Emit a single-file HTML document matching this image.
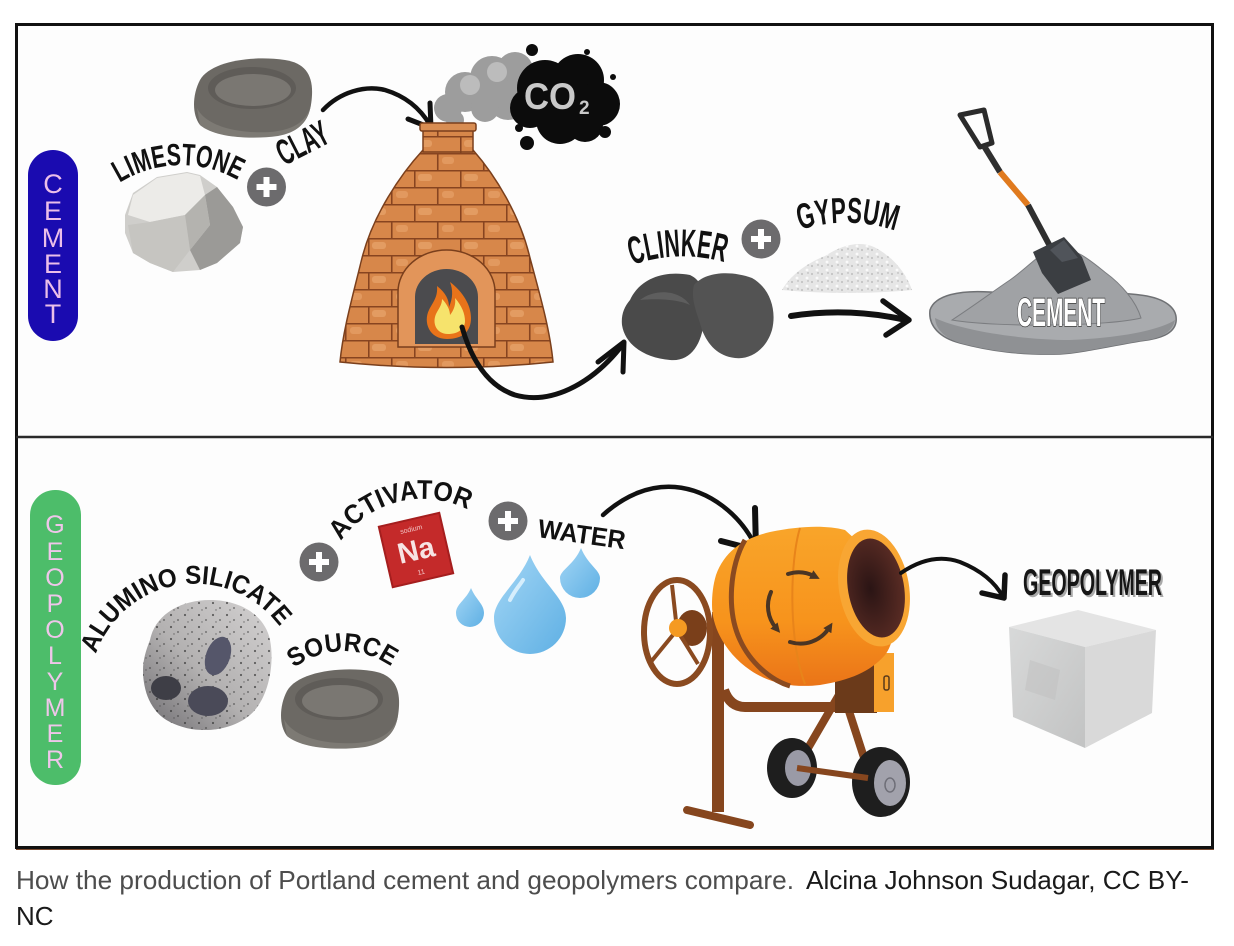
<!DOCTYPE html>
<html><head><meta charset="utf-8"><style>
html,body{margin:0;padding:0;background:#fff;}
svg{display:block;}
</style></head><body>
<svg width="1234" height="946" viewBox="0 0 1234 946" xmlns="http://www.w3.org/2000/svg" font-family="'Liberation Sans', sans-serif">
<defs>
<pattern id="brick" width="46" height="34" patternUnits="userSpaceOnUse">
<rect width="46" height="34" fill="#d7874a"/>
<rect x="4" y="4" width="14" height="7" rx="3" fill="#e9a56d" opacity=".7"/>
<rect x="28" y="21" width="12" height="7" rx="3" fill="#e9a56d" opacity=".6"/>
<path d="M0 0.75H46M0 17.75H46M0.75 0V17M23.75 17V34" stroke="#874420" stroke-width="1.6"/>
</pattern>
<pattern id="speck" width="14" height="12" patternUnits="userSpaceOnUse">
<circle cx="3" cy="3" r="1.1" fill="#333"/><circle cx="10" cy="8" r="0.9" fill="#333"/><circle cx="6" cy="10" r="0.7" fill="#444"/>
</pattern>
<pattern id="powder" width="10" height="8" patternUnits="userSpaceOnUse">
<circle cx="2" cy="2" r="1.1" fill="#c4c4c4"/><circle cx="7" cy="6" r="1.4" fill="#fafafa"/><circle cx="8" cy="1" r="0.7" fill="#aaa"/>
</pattern>
<linearGradient id="drumG" x1="0" y1="0" x2="0" y2="1">
<stop offset="0" stop-color="#f9a52a"/><stop offset="0.6" stop-color="#f7931c"/><stop offset="1" stop-color="#ea7418"/>
</linearGradient>
<radialGradient id="mouthG" cx="0.4" cy="0.5" r="0.6">
<stop offset="0" stop-color="#2a1414"/><stop offset="1" stop-color="#5a2c24"/>
</radialGradient>
<linearGradient id="rockG" x1="1" y1="0" x2="0" y2="1">
<stop offset="0" stop-color="#d4d2d2"/><stop offset="0.55" stop-color="#b3b1b1"/><stop offset="1" stop-color="#6e6c70"/>
</linearGradient>
<linearGradient id="dropG" x1="0" y1="0" x2="1" y2="1">
<stop offset="0" stop-color="#a3d6f5"/><stop offset="1" stop-color="#5fb0e4"/>
</linearGradient>
<linearGradient id="cubeL" x1="0" y1="0" x2="1" y2="1">
<stop offset="0" stop-color="#d8d9d9"/><stop offset="1" stop-color="#c2c3c3"/>
</linearGradient>
<marker id="ah" viewBox="0 0 6 6" markerWidth="2.4" markerHeight="2.4" refX="2" refY="3" orient="auto">
<path d="M0,0 L6,3 L0,6 Z" fill="#4a3524"/>
</marker>
<g id="clay">
<path d="M200,80 C210,62 250,55 285,60 C305,63 313,75 312,95 C311,115 305,130 280,135 C250,140 215,137 200,125 C192,115 192,95 200,80 Z" fill="#6c6964"/>
<path d="M197,108 C205,125 235,134 270,132 C295,130 308,120 311,104 C309,120 300,132 278,136 C248,140 214,137 200,125 Z" fill="#7d7a74"/>
<ellipse cx="252" cy="88" rx="44" ry="21" fill="#5f5c58"/>
<ellipse cx="253" cy="90" rx="38" ry="16" fill="#7a7772"/>
</g>
</defs>

<rect width="1234" height="946" fill="#fff"/>
<!-- frame -->
<rect x="16.5" y="24.5" width="1196" height="823" fill="#fdfdfd" stroke="#111" stroke-width="3"/>
<line x1="16" y1="437" x2="1213" y2="437" stroke="#2a2a2a" stroke-width="2.5"/>
<line x1="16" y1="849.5" x2="1214" y2="849.5" stroke="#7a4a30" stroke-width="1"/>

<!-- CEMENT pill -->
<rect x="28" y="150" width="50" height="191" rx="25" fill="#1a0bb0"/>
<g font-size="27" fill="#ebbfe9" text-anchor="middle">
<text x="53" y="193">C</text><text x="53" y="220">E</text><text x="53" y="247">M</text>
<text x="53" y="273">E</text><text x="53" y="298">N</text><text x="53" y="323">T</text>
</g>

<!-- GEOPOLYMER pill -->
<rect x="30" y="490" width="51" height="295" rx="25" fill="#4dbd6a"/>
<g font-size="25" fill="#efc6ea" text-anchor="middle">
<text x="55" y="533">G</text><text x="55" y="560">E</text><text x="55" y="586">O</text>
<text x="55" y="612">P</text><text x="55" y="638">O</text><text x="55" y="664">L</text>
<text x="55" y="690">Y</text><text x="55" y="716">M</text><text x="55" y="742">E</text>
<text x="55" y="768">R</text>
</g>

<!-- clay top -->
<use href="#clay"/>

<!-- limestone rock -->
<polygon points="125,215 133,193 157,177 187,172 200,175 217,187 233,207 243,227 240,243 217,263 200,270 173,272 150,263 133,253 125,233" fill="#cfcecb"/>
<polygon points="133,195 157,178 187,173 200,176 205,195 185,215 150,222 128,215" fill="#ecebe8"/>
<polygon points="205,195 217,187 233,207 243,227 240,243 217,263 200,270 190,250 210,225" fill="#9b9a97"/>
<polygon points="128,225 150,222 185,215 190,250 173,272 150,263 133,253" fill="#c6c5c1"/>
<polygon points="185,215 205,195 210,225 190,250" fill="#b4b3af"/>

<!-- LIMESTONE curved -->
<path id="limeP" d="M118,184 A115 115 0 0 1 244,184" fill="none"/>
<text font-size="31" font-weight="bold" fill="#111"><textPath href="#limeP" startOffset="2" textLength="124" lengthAdjust="spacingAndGlyphs">LIMESTONE</textPath></text>

<!-- plus 1 -->
<g transform="translate(266.5,187)"><circle r="19.5" fill="#6c6b6d"/><path d="M-10,0H10M0,-10V10" stroke="#fff" stroke-width="6"/></g>

<!-- CLAY -->
<text transform="translate(284,166) rotate(-27)" font-size="36" font-weight="bold" fill="#111" textLength="54" lengthAdjust="spacingAndGlyphs">CLAY</text>

<!-- arrow 1 -->
<path d="M323,110 C340,92 365,85 385,90 C405,96 420,108 430,125" fill="none" stroke="#111" stroke-width="4.5" stroke-linecap="round"/>
<path d="M408,119 L431,128 L430,103" fill="none" stroke="#111" stroke-width="5" stroke-linejoin="round" stroke-linecap="round"/>

<!-- smoke -->
<g fill="#9d9d9d">
<circle cx="448" cy="108" r="14"/><circle cx="465" cy="92" r="20"/><circle cx="492" cy="78" r="22"/>
<circle cx="515" cy="70" r="18"/><circle cx="508" cy="100" r="20"/><circle cx="485" cy="108" r="14"/>
<circle cx="455" cy="120" r="9"/>
</g>
<g fill="#bcbcbc"><circle cx="470" cy="85" r="10"/><circle cx="497" cy="72" r="10"/></g>
<!-- CO2 cloud -->
<g fill="#0c0c0c">
<circle cx="545" cy="88" r="28"/><circle cx="578" cy="80" r="26"/><circle cx="598" cy="104" r="22"/>
<circle cx="560" cy="120" r="24"/><circle cx="530" cy="108" r="20"/><circle cx="585" cy="124" r="18"/>
<circle cx="532" cy="50" r="6"/><circle cx="587" cy="52" r="3"/><circle cx="613" cy="77" r="3"/>
<circle cx="605" cy="132" r="6"/><circle cx="527" cy="143" r="7"/><circle cx="519" cy="128" r="4"/>
</g>
<text x="524" y="109" font-size="37" font-weight="bold" fill="#c9c9c9" textLength="52" lengthAdjust="spacingAndGlyphs">CO</text>
<text x="579" y="114" font-size="19" font-weight="bold" fill="#c9c9c9">2</text>

<!-- kiln -->
<path d="M423,150 L473,150 C495,175 520,215 530,258 C540,295 550,330 553,362 Q447,373 340,362 C343,330 353,295 362,258 C373,215 400,175 423,150 Z" fill="url(#brick)" stroke="#7a3f1c" stroke-width="1.5"/>
<rect x="423" y="126" width="50" height="26" fill="url(#brick)" stroke="#7a3f1c" stroke-width="1.5"/>
<rect x="420" y="123" width="56" height="8" rx="2" fill="#d98d52" stroke="#7a3f1c" stroke-width="1.5"/>
<path d="M398,347 L398,292 A48.5 42 0 0 1 495,292 L495,347 Z" fill="#e2955a" stroke="#7a3f1c" stroke-width="1.5"/>
<path d="M415,344 L415,297 A31.5 28 0 0 1 478,297 L478,344 Z" fill="#4b4b4e"/>
<path d="M447,339 C429,339 423,322 429,310 C433,302 438,297 437,286 C446,293 449,300 449,307 C453,298 453,290 450,282 C463,292 471,305 471,318 C471,331 463,339 447,339 Z" fill="#e8731a"/>
<path d="M448,334 C436,334 432,323 436,314 C439,308 442,305 442,299 C447,304 450,310 450,315 C454,310 456,304 455,298 C462,306 465,314 465,321 C465,329 458,334 448,334 Z" fill="#f6e36c"/>

<!-- arrow 2 -->
<path d="M462,327 C470,355 485,385 515,395 C550,405 590,385 620,348" fill="none" stroke="#111" stroke-width="5" stroke-linecap="round"/>
<path d="M598,362 L624,342 L623,372" fill="none" stroke="#111" stroke-width="5" stroke-linejoin="round" stroke-linecap="round"/>

<!-- CLINKER -->
<path id="clinkP" d="M632,265 Q680,249 727,263" fill="none"/>
<text font-size="39" font-weight="bold" fill="#111"><textPath href="#clinkP" textLength="94" lengthAdjust="spacingAndGlyphs">CLINKER</textPath></text>
<!-- clinker rocks -->
<path d="M630,300 C640,278 665,270 690,275 C705,282 706,300 704,320 C702,345 690,362 670,360 C645,358 625,345 622,325 C621,315 624,307 630,300 Z" fill="#4a4a4a"/>
<path d="M694,285 C705,272 730,270 752,278 C770,288 777,310 772,330 C766,350 750,360 735,358 C718,356 708,345 702,330 C698,315 690,300 694,285 Z" fill="#535353"/>
<path d="M640,300 C655,288 680,290 690,305 C680,300 660,298 640,300 Z" fill="#5e5e5e"/>

<!-- plus 2 -->
<g transform="translate(761,239)"><circle r="19.5" fill="#6c6b6d"/><path d="M-10,0H10M0,-10V10" stroke="#fff" stroke-width="6"/></g>

<!-- GYPSUM -->
<path id="gypP" d="M800,230 Q848,215 896,231" fill="none"/>
<text font-size="36" font-weight="bold" fill="#111"><textPath href="#gypP" textLength="97" lengthAdjust="spacingAndGlyphs">GYPSUM</textPath></text>
<!-- powder -->
<path d="M782,290 C790,276 805,264 825,256 C840,246 858,240 874,247 C890,255 905,270 912,290 Q848,296 782,290 Z" fill="#e6e6e6"/>
<path d="M782,290 C790,276 805,264 825,256 C840,246 858,240 874,247 C890,255 905,270 912,290 Q848,296 782,290 Z" fill="url(#powder)"/>

<!-- arrow clinker->cement -->
<path d="M791,316 C830,310 870,312 906,320" fill="none" stroke="#111" stroke-width="6" stroke-linecap="round"/>
<path d="M883,301 L909,320 L886,335" fill="none" stroke="#111" stroke-width="5.5" stroke-linejoin="round" stroke-linecap="round"/>

<!-- cement pile -->
<path d="M930,310 C935,295 960,290 990,292 C1040,295 1100,290 1140,295 C1165,298 1178,308 1176,322 C1174,334 1160,339 1140,341 C1110,346 1080,353 1060,354 C1020,355 990,351 960,343 C940,338 928,326 930,310 Z" fill="#a9abae" stroke="#6f7174" stroke-width="1.5"/>
<path d="M935,318 C960,330 1020,340 1070,340 C1120,338 1160,330 1175,320 C1172,333 1160,339 1140,341 C1110,346 1080,353 1060,354 C1020,355 990,351 960,343 C945,338 936,330 935,318 Z" fill="#8f9194"/>
<path d="M952,320 C975,305 995,290 1010,280 C1030,266 1042,250 1056,248 C1076,247 1092,262 1106,273 C1121,284 1136,301 1141,318 C1110,326 1000,328 952,320 Z" fill="#a0a2a5" stroke="#7b7d80" stroke-width="1"/>
<!-- shovel -->
<path d="M960,115 L984,110 L992,143 L980,147 Z" fill="none" stroke="#2b2b2b" stroke-width="5" stroke-linejoin="round"/>
<line x1="984" y1="146" x2="1000" y2="172" stroke="#2f2f2f" stroke-width="6"/>
<line x1="1000" y1="172" x2="1028" y2="205" stroke="#e07a1e" stroke-width="6"/>
<line x1="1028" y1="205" x2="1052" y2="250" stroke="#2f2f2f" stroke-width="6"/>
<polygon points="1033,252 1064,237 1082,257 1091,280 1058,294 1042,273" fill="#3b3e42"/>
<polygon points="1050,250 1064,240 1078,258 1062,262" fill="#50545a"/>
<text x="1017" y="326" font-size="40" font-weight="bold" fill="#fff" stroke="#3a3a3a" stroke-width="1.6" paint-order="stroke" textLength="88" lengthAdjust="spacingAndGlyphs">CEMENT</text>

<!-- ===== bottom panel ===== -->
<!-- porous rock -->
<path d="M150,640 C155,615 180,600 210,600 C240,600 265,615 270,640 C275,665 268,700 250,715 C230,732 195,735 170,722 C150,712 143,690 143,670 C143,660 146,650 150,640 Z" fill="url(#rockG)"/>
<path d="M150,640 C155,615 180,600 210,600 C240,600 265,615 270,640 C275,665 268,700 250,715 C230,732 195,735 170,722 C150,712 143,690 143,670 C143,660 146,650 150,640 Z" fill="url(#speck)" opacity=".7"/>
<ellipse cx="218" cy="656" rx="12" ry="20" transform="rotate(20 218 656)" fill="#55566a"/>
<ellipse cx="166" cy="688" rx="15" ry="12" fill="#3e3e46"/>
<ellipse cx="208" cy="701" rx="20" ry="15" fill="#4a4a58"/>

<!-- ALUMINO SILICATE -->
<path id="alP" d="M96,654 A105 105 0 0 1 291,646" fill="none"/>
<text font-size="26" font-weight="bold" fill="#111"><textPath href="#alP" textLength="228" lengthAdjust="spacingAndGlyphs">ALUMINO  SILICATE</textPath></text>

<!-- clay 2 -->
<use href="#clay" transform="translate(87,611)"/>
<!-- SOURCE -->
<path id="srcP" d="M294,668 A81.5 81.5 0 0 1 393,668" fill="none"/>
<text font-size="26" font-weight="bold" fill="#111"><textPath href="#srcP" textLength="104" lengthAdjust="spacingAndGlyphs">SOURCE</textPath></text>

<!-- plus 3 -->
<g transform="translate(319,562)"><circle r="19.5" fill="#6c6b6d"/><path d="M-10,0H10M0,-10V10" stroke="#fff" stroke-width="6"/></g>

<!-- ACTIVATOR -->
<path id="actP" d="M341,541 A100 100 0 0 1 472,512" fill="none"/>
<text font-size="27" font-weight="bold" fill="#111"><textPath href="#actP" textLength="142" lengthAdjust="spacingAndGlyphs">ACTIVATOR</textPath></text>

<!-- Na -->
<g transform="rotate(-13 416 550)">
<rect x="385" y="519" width="62" height="62" fill="#c42a2a"/>
<rect x="385" y="519" width="62" height="62" fill="none" stroke="#a51e1e" stroke-width="2"/>
<text x="416" y="531" font-size="7" fill="#f2c5c5" text-anchor="middle">sodium</text>
<text x="416" y="560" font-size="29" font-weight="bold" fill="#f7e4e4" text-anchor="middle">Na</text>
<text x="416" y="575" font-size="7" fill="#f2c5c5" text-anchor="middle">11</text>
</g>

<!-- plus 4 -->
<g transform="translate(508,521)"><circle r="19.5" fill="#6c6b6d"/><path d="M-10,0H10M0,-10V10" stroke="#fff" stroke-width="6"/></g>

<!-- WATER -->
<text transform="translate(537,537) rotate(8)" font-size="26" font-weight="bold" fill="#111" textLength="88" lengthAdjust="spacingAndGlyphs">WATER</text>

<!-- drops -->
<path d="M530,555 C541,583 566,598 566,618 A36 36 0 0 1 494,618 C494,598 519,583 530,555 Z" fill="url(#dropG)"/>
<path d="M510,600 C515,590 520,585 523,580" stroke="#d6eefc" stroke-width="4" stroke-linecap="round" fill="none"/>
<path d="M471,588 C476,600 484,604 484,613 A14 14 0 0 1 456,613 C456,604 466,600 471,588 Z" fill="url(#dropG)"/>
<path d="M581,548 C588,565 600,570 600,578 A20 20 0 0 1 560,578 C560,570 574,565 581,548 Z" fill="url(#dropG)"/>

<!-- arrow 3 -->
<path d="M603,515 C625,495 650,485 675,487 C710,490 740,515 755,545" fill="none" stroke="#111" stroke-width="4.5" stroke-linecap="round"/>
<path d="M721,541 L756,550 L755,508" fill="none" stroke="#111" stroke-width="6" stroke-linejoin="round" stroke-linecap="round"/>

<!-- mixer -->
<!-- stand -->
<line x1="718" y1="612" x2="718" y2="812" stroke="#86461e" stroke-width="12"/>
<line x1="687" y1="810" x2="750" y2="825" stroke="#86461e" stroke-width="8" stroke-linecap="round"/>
<path d="M724,690 Q730,707 745,707 L862,707" fill="none" stroke="#86461e" stroke-width="10"/>
<line x1="843" y1="688" x2="797" y2="767" stroke="#86461e" stroke-width="8"/>
<line x1="847" y1="705" x2="868" y2="770" stroke="#86461e" stroke-width="8"/>
<!-- gearbox -->
<rect x="835" y="665" width="42" height="48" fill="#6b3a1a"/>
<rect x="874" y="653" width="20" height="59" fill="#f7a12c"/>
<rect x="884" y="676" width="5" height="14" rx="2" fill="none" stroke="#5a3a1a" stroke-width="1.5"/>
<!-- wheels -->
<ellipse cx="792" cy="768" rx="25" ry="30" fill="#1e1e1e"/>
<ellipse cx="798" cy="768" rx="13" ry="18" fill="#9a9aa6"/>
<ellipse cx="881" cy="782" rx="29" ry="35" fill="#1e1e1e"/>
<ellipse cx="890" cy="783" rx="16" ry="23" fill="#a2a2ac"/>
<ellipse cx="890" cy="785" rx="5" ry="7" fill="none" stroke="#6f6f78" stroke-width="1.5"/>
<line x1="797" y1="768" x2="868" y2="778" stroke="#86461e" stroke-width="6"/>
<!-- handwheel -->
<ellipse cx="692" cy="628" rx="15" ry="18" fill="#7a3f1a"/>
<ellipse cx="677" cy="632" rx="33" ry="52" fill="none" stroke="#8a4a20" stroke-width="6"/>
<path d="M677,630 L672,585 M677,630 L650,663 M677,630 L698,664" stroke="#8a4a20" stroke-width="4"/>
<circle cx="678" cy="628" r="9" fill="#f59a22"/>
<!-- drum -->
<path d="M716,575 C725,550 745,538 770,532 C800,526 825,525 845,530 L878,560 C895,600 900,635 885,655 C870,672 850,680 820,685 C795,688 770,684 750,670 C728,655 712,630 712,605 C712,595 713,585 716,575 Z" fill="url(#drumG)"/>
<path d="M745,540 C730,565 726,610 740,640 C750,662 770,680 790,686" fill="none" stroke="#8a4a20" stroke-width="5"/>
<path d="M800,528 C790,560 788,640 805,684" fill="none" stroke="#e8841a" stroke-width="2"/>
<ellipse cx="874" cy="588" rx="35" ry="59" transform="rotate(-10 874 588)" fill="#f8a633"/>
<ellipse cx="876" cy="588" rx="28" ry="50" transform="rotate(-10 876 588)" fill="url(#mouthG)"/>
<!-- circular arrows -->
<g fill="none" stroke="#4a3524" stroke-width="4" stroke-linecap="round">
<path d="M788,574 A34 34 0 0 1 814,576" marker-end="url(#ah)"/>
<path d="M771,592 A34 34 0 0 0 776,628" marker-end="url(#ah)"/>
<path d="M790,642 A34 34 0 0 0 829,628" marker-end="url(#ah)"/>
</g>

<!-- arrow 4 -->
<path d="M901,573 C920,560 940,555 960,562 C980,570 995,582 1003,597" fill="none" stroke="#111" stroke-width="4" stroke-linecap="round"/>
<path d="M982,593 L1004,598 L1005,575" fill="none" stroke="#111" stroke-width="5.5" stroke-linejoin="round" stroke-linecap="round"/>

<!-- GEOPOLYMER label -->
<text x="1025" y="597" font-size="37" font-weight="bold" fill="#aaa" textLength="139" lengthAdjust="spacingAndGlyphs">GEOPOLYMER</text>
<text x="1023" y="595" font-size="37" font-weight="bold" fill="#161616" textLength="139" lengthAdjust="spacingAndGlyphs">GEOPOLYMER</text>

<!-- cube -->
<polygon points="1009,627 1078,610 1156,630 1085,647" fill="#e4e4e4"/>
<polygon points="1009,627 1085,647 1085,748 1013,717" fill="url(#cubeL)"/>
<polygon points="1085,647 1156,630 1152,713 1085,748" fill="#d9d9d9"/>
<polygon points="1030,660 1060,670 1055,700 1025,690" fill="#bfc0c0" opacity=".5"/>

<!-- caption -->
<text x="16" y="889" font-size="26" fill="#4d4d4d" textLength="778" lengthAdjust="spacingAndGlyphs">How the production of Portland cement and geopolymers compare.</text>
<text x="806" y="889" font-size="26" fill="#1a1a1a" textLength="383" lengthAdjust="spacingAndGlyphs">Alcina Johnson Sudagar, CC BY-</text>
<text x="16" y="925" font-size="26" fill="#1a1a1a">NC</text>
</svg>
</body></html>
